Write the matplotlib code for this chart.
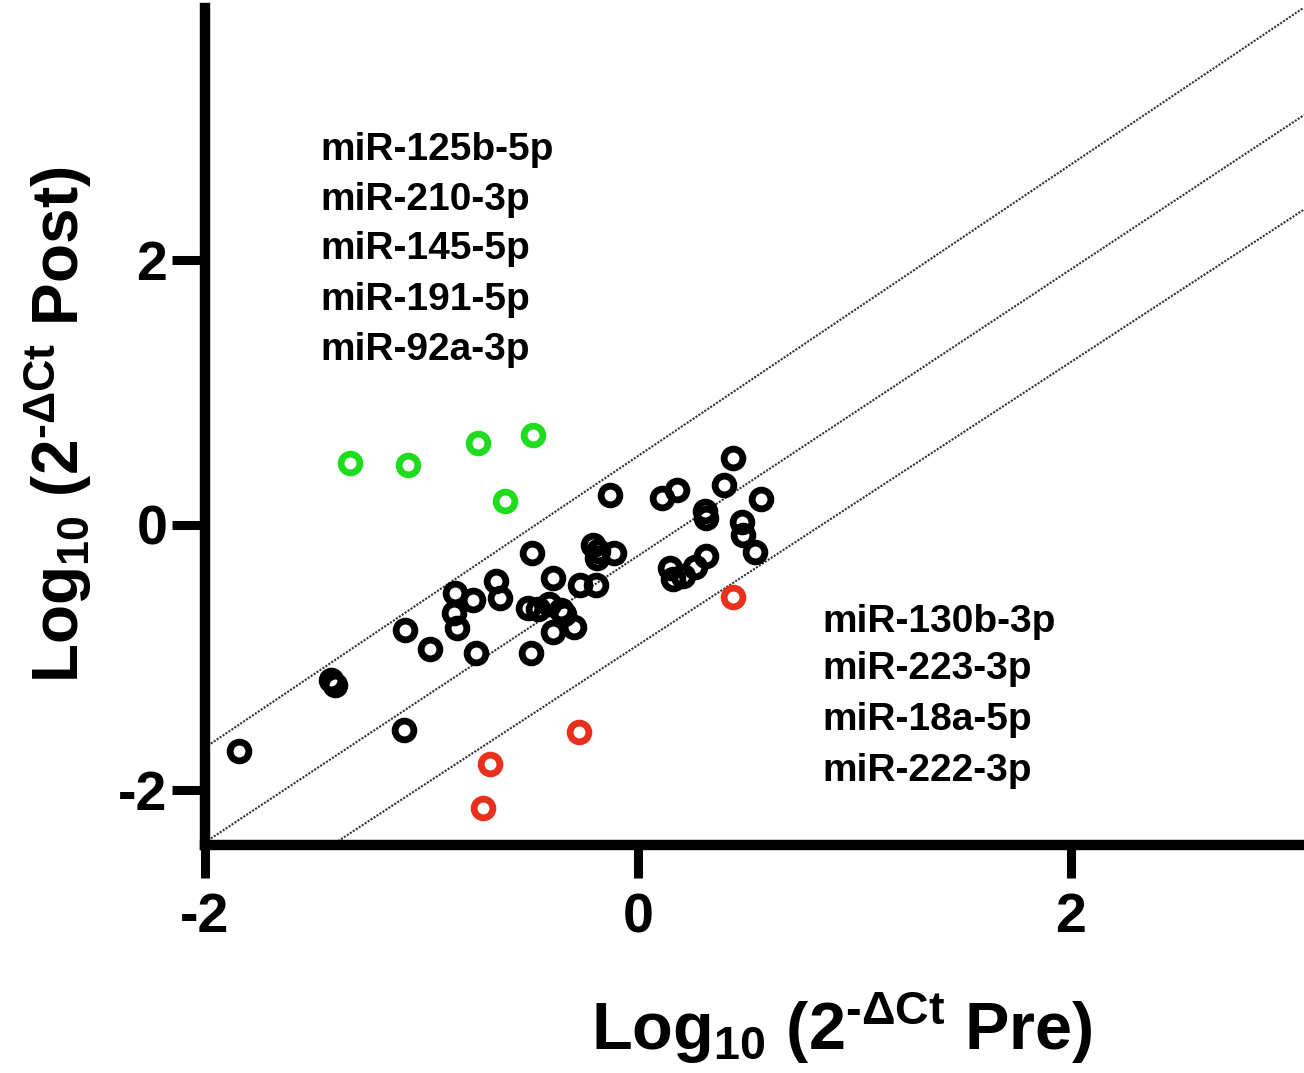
import matplotlib
matplotlib.use("Agg")
import matplotlib.pyplot as plt

plt.rcParams['font.family'] = ['Liberation Sans', 'DejaVu Sans']
plt.rcParams['font.weight'] = 'bold'
plt.rcParams['mathtext.fontset'] = 'custom'
plt.rcParams['mathtext.rm'] = 'Liberation Sans:bold'
plt.rcParams['mathtext.it'] = 'Liberation Sans:bold'
plt.rcParams['mathtext.bf'] = 'Liberation Sans:bold'
plt.rcParams['mathtext.sf'] = 'Liberation Sans:bold'

# log10 expression, pre vs post
pre_unchanged = [-1.843, -1.418, -1.400, -1.081, -1.076, -0.961, -0.845, -0.762, -0.850,
                 -0.836, -0.748, -0.656, -0.637, -0.490, -0.393, -0.508, -0.462, -0.411,
                 -0.356, -0.342, -0.393, -0.296, -0.494, -0.268, -0.194, -0.208, -0.185,
                 -0.189, -0.111, -0.129, 0.111, 0.180, 0.439, 0.397, 0.309, 0.314,
                 0.568, 0.480, 0.485, 0.540, 0.148, 0.162, 0.208, 0.263, 0.314]
post_unchanged = [-1.706, -1.170, -1.208, -1.547, -0.792, -0.936, -0.513, -0.566, -0.664,
                  -0.777, -0.966, -0.423, -0.551, -0.211, -0.400, -0.626, -0.634, -0.596,
                  -0.642, -0.672, -0.808, -0.770, -0.966, -0.453, -0.453, -0.151, -0.196,
                  -0.249, -0.211, 0.226, 0.204, 0.264, 0.506, 0.302, 0.106, 0.053,
                  0.196, 0.023, -0.075, -0.204, -0.325, -0.408, -0.385, -0.317, -0.234]

pre_up = [-1.330, -1.062, -0.739, -0.485, -0.614]
post_up = [0.468, 0.453, 0.619, 0.679, 0.181]

pre_down = [0.439, -0.273, -0.684, -0.716]
post_down = [-0.543, -1.562, -1.804, -2.136]

up_names = ["miR-125b-5p", "miR-210-3p", "miR-145-5p", "miR-191-5p", "miR-92a-3p"]
down_names = ["miR-130b-3p", "miR-223-3p", "miR-18a-5p", "miR-222-3p"]

# reference lines: (intercept, slope)
ref_intercepts = [0.52, -0.233, -0.906]
ref_slopes = [1.10, 1.081, 1.068]

W, H = 1304, 1073
fig = plt.figure(figsize=(W / 100, H / 100), dpi=100)
left, bottom_px, top_px = 205, 845, 8
ax = fig.add_axes([left / W, 1 - bottom_px / H, (W - left) / W, (bottom_px - top_px) / H])
ax.set_xlim(-2, 3.076)
ax.set_ylim(-2.415, 3.90)

for b, m in zip(ref_intercepts, ref_slopes):
    ax.axline((0, b), slope=m, color='#333333', lw=1.5, ls=(0, (1, 0.7)), zorder=1)

ring = dict(ls='none', marker='o', ms=13.5, mew=4.9, mfc='none', zorder=3, clip_on=False)
ax.plot(pre_unchanged, post_unchanged, mec='black', **ring)
ax.plot(pre_up, post_up, mec='#1fdc1f', **ring)
ax.plot(pre_down, post_down, mec='#e8301c', **ring)

up_y = [2.83, 2.45, 2.08, 1.70, 1.32]
for name, yy in zip(up_names, up_y):
    ax.text(-1.469, yy, name, fontsize=28, fontweight='bold', va='center', ha='left')
down_y = [-0.73, -1.09, -1.47, -1.86]
for name, yy in zip(down_names, down_y):
    ax.text(0.85, yy, name, fontsize=28, fontweight='bold', va='center', ha='left')

for s in ['top', 'right']:
    ax.spines[s].set_visible(False)
for s in ['left', 'bottom']:
    ax.spines[s].set_linewidth(7.5)
    ax.spines[s].set_capstyle('projecting')

ax.set_xticks([-2, 0, 2])
ax.set_yticks([-2, 0, 2])
ax.set_xticklabels(['-2', '0', '2'])
ax.set_yticklabels(['-2', '0', '2'])
ax.tick_params(axis='x', length=24, width=6.5, pad=10, labelsize=40)
ax.tick_params(axis='y', length=24, width=6.5, pad=3, labelsize=40)
for lab in ax.get_xticklabels() + ax.get_yticklabels():
    lab.set_fontweight('bold')

fig.text(842 / W, 1 - 1028 / H, 'Log$_{10}$ (2$^{\u2010\\Delta\\mathrm{Ct}}$ Pre)',
         fontsize=48, fontweight='bold', ha='center', va='center')
fig.text(58 / W, 1 - 425 / H, 'Log$_{10}$ (2$^{\u2010\\Delta\\mathrm{Ct}}$ Post)',
         fontsize=46, fontweight='bold', ha='center', va='center', rotation=90)

fig.savefig('out.png', dpi=100)
